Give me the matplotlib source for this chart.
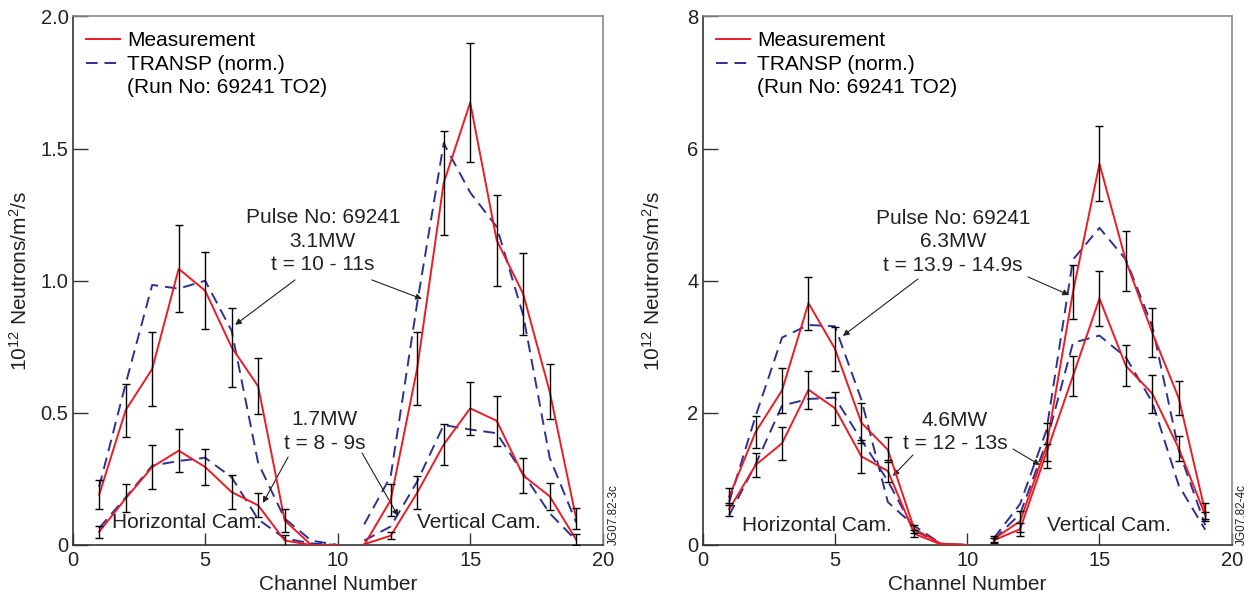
#!/usr/bin/env python3
"""Neutron camera profiles: measurement vs TRANSP, two heating phases"""

import numpy as np
import matplotlib
matplotlib.use('Agg')
import matplotlib.pyplot as plt
from matplotlib.lines import Line2D

plt.rcParams['font.family'] = ['Liberation Sans', 'DejaVu Sans']
plt.rcParams['mathtext.fontset'] = 'custom'
plt.rcParams['mathtext.rm'] = 'Liberation Sans'
plt.rcParams['mathtext.it'] = 'Liberation Sans:italic'

# channels: horizontal camera 1-10, vertical camera 11-19
hor_ch = [1, 2, 3, 4, 5, 6, 7, 8, 9, 10]
ver_ch = [11, 12, 13, 14, 15, 16, 17, 18, 19]

# left panel, 3.1MW (t = 10 - 11s)
meas_31_h = [0.19, 0.51, 0.666, 1.045, 0.962, 0.748, 0.60, 0.093, 0.0, 0.0]
err_31_h = [0.055, 0.10, 0.14, 0.165, 0.145, 0.15, 0.106, 0.045, 0.0, 0.0]
transp_31_h = [0.22, 0.61, 0.984, 0.97, 1.0, 0.81, 0.31, 0.10, 0.017, 0.0]
meas_31_v = [0.0, 0.17, 0.668, 1.37, 1.674, 1.153, 0.95, 0.58, 0.10]
err_31_v = [0.0, 0.06, 0.137, 0.197, 0.226, 0.172, 0.154, 0.105, 0.04]
transp_31_v = [0.078, 0.26, 0.915, 1.52, 1.334, 1.204, 0.87, 0.33, 0.085]

# left panel, 1.7MW (t = 8 - 9s)
meas_17_h = [0.05, 0.176, 0.295, 0.357, 0.295, 0.20, 0.15, 0.017, 0.0, 0.0]
err_17_h = [0.022, 0.053, 0.082, 0.082, 0.069, 0.065, 0.045, 0.02, 0.0, 0.0]
transp_17_h = [0.064, 0.18, 0.30, 0.318, 0.33, 0.256, 0.097, 0.025, 0.006, 0.0]
meas_17_v = [0.003, 0.035, 0.198, 0.38, 0.517, 0.47, 0.263, 0.184, 0.02]
err_17_v = [0.0, 0.013, 0.063, 0.077, 0.10, 0.094, 0.067, 0.05, 0.02]
transp_17_v = [0.017, 0.07, 0.24, 0.454, 0.437, 0.423, 0.27, 0.12, 0.017]

# right panel, 6.3MW (t = 13.9 - 14.9s)
meas_63_h = [0.73, 1.71, 2.34, 3.66, 2.97, 1.85, 1.44, 0.24, 0.02, 0.0]
err_63_h = [0.13, 0.235, 0.34, 0.40, 0.33, 0.30, 0.19, 0.06, 0.0, 0.0]
transp_63_h = [0.65, 1.95, 3.14, 3.33, 3.31, 2.2, 0.65, 0.29, 0.02, 0.0]
meas_63_v = [0.09, 0.36, 1.50, 3.83, 5.77, 4.30, 3.21, 2.22, 0.50]
err_63_v = [0.05, 0.16, 0.34, 0.41, 0.57, 0.45, 0.37, 0.26, 0.13]
transp_63_v = [0.10, 0.62, 1.74, 4.32, 4.80, 4.32, 3.31, 1.43, 0.30]

# right panel, 4.6MW (t = 12 - 13s)
meas_46_h = [0.54, 1.21, 1.54, 2.35, 2.07, 1.34, 1.12, 0.17, 0.01, 0.0]
err_46_h = [0.10, 0.185, 0.25, 0.29, 0.25, 0.25, 0.16, 0.05, 0.0, 0.0]
transp_46_h = [0.45, 1.22, 2.11, 2.21, 2.23, 1.59, 0.97, 0.22, 0.02, 0.0]
meas_46_v = [0.07, 0.24, 1.40, 2.56, 3.73, 2.71, 2.29, 1.46, 0.45]
err_46_v = [0.04, 0.10, 0.13, 0.30, 0.41, 0.31, 0.29, 0.19, 0.05]
transp_46_v = [0.08, 0.47, 1.56, 3.06, 3.17, 2.84, 2.16, 0.90, 0.23]

RED = '#ED1C24'
BLUE = '#2E3192'
FS = 15


def draw_profile(ax, ch, meas, err, transp):
    ch = np.array(ch)
    meas = np.array(meas)
    err = np.array(err)
    ax.plot(ch, transp, color=BLUE, lw=1.4, dashes=(6, 3.5), zorder=3)
    ax.plot(ch, meas, color=RED, lw=1.4, zorder=4)
    m = err > 0
    ax.errorbar(ch[m], meas[m], yerr=err[m], fmt='none', ecolor='black',
                elinewidth=1.0, capsize=3, capthick=1.0, zorder=5)


def style_axes(ax, ymax, yticks, ylabels):
    ax.set_xlim(0, 20)
    ax.set_ylim(0, ymax)
    ax.set_xticks([0, 5, 10, 15, 20])
    ax.set_yticks(yticks)
    ax.set_yticklabels(ylabels)
    ax.tick_params(direction='in', length=11, width=1.0, labelsize=14.5,
                   pad=3, color='#333333', labelcolor='#222222')
    ax.tick_params(axis='x', length=9, pad=4)
    for s in ['left', 'bottom']:
        ax.spines[s].set_color('#333333')
        ax.spines[s].set_linewidth(1.2)
    for s in ['top', 'right']:
        ax.spines[s].set_color('#8a8a8a')
        ax.spines[s].set_linewidth(1.2)
    handles = [Line2D([], [], color=RED, lw=1.4),
               Line2D([], [], color=BLUE, lw=1.4, dashes=(6, 3.5)),
               Line2D([], [], color='none')]
    labels = ['Measurement', 'TRANSP (norm.)', '(Run No: 69241 TO2)']
    ax.legend(handles, labels, loc='upper left', bbox_to_anchor=(0.026, 0.972),
              frameon=False, fontsize=FS, handlelength=1.6, handletextpad=0.35,
              borderpad=0, borderaxespad=0, labelspacing=0.22)


def arrow(ax, tail, head):
    ax.annotate('', xy=head, xytext=tail,
                arrowprops=dict(arrowstyle='-|>', color='#222222', lw=0.8,
                                mutation_scale=9, shrinkA=0, shrinkB=0))


fig = plt.figure(figsize=(12.53, 6.02), dpi=100)
ax1 = fig.add_axes([0.058, 0.0947, 0.423, 0.878])
ax2 = fig.add_axes([0.5608, 0.0947, 0.4222, 0.878])

# left panel
draw_profile(ax1, hor_ch, meas_17_h, err_17_h, transp_17_h)
draw_profile(ax1, ver_ch, meas_17_v, err_17_v, transp_17_v)
draw_profile(ax1, hor_ch, meas_31_h, err_31_h, transp_31_h)
draw_profile(ax1, ver_ch, meas_31_v, err_31_v, transp_31_v)
style_axes(ax1, 2.0, [0, 0.5, 1.0, 1.5, 2.0], ['0', '0.5', '1.0', '1.5', '2.0'])

ax1.text(9.44, 1.15, 'Pulse No: 69241\n3.1MW\nt = 10 - 11s', ha='center',
         va='center', fontsize=FS, linespacing=1.3, color='#222222')
arrow(ax1, (8.39, 1.003), (6.13, 0.833))
arrow(ax1, (11.29, 1.003), (13.18, 0.931))
ax1.text(9.52, 0.43, '1.7MW\nt = 8 - 9s', ha='center', va='center',
         fontsize=FS, linespacing=1.3, color='#222222')
arrow(ax1, (8.13, 0.333), (7.18, 0.159))
arrow(ax1, (10.92, 0.348), (12.28, 0.110))
ax1.text(1.47, 0.085, 'Horizontal Cam.', ha='left', va='center', fontsize=FS,
         color='#222222')
ax1.text(15.33, 0.085, 'Vertical Cam.', ha='center', va='center', fontsize=FS,
         color='#222222')

# right panel
draw_profile(ax2, hor_ch, meas_46_h, err_46_h, transp_46_h)
draw_profile(ax2, ver_ch, meas_46_v, err_46_v, transp_46_v)
draw_profile(ax2, hor_ch, meas_63_h, err_63_h, transp_63_h)
draw_profile(ax2, ver_ch, meas_63_v, err_63_v, transp_63_v)
style_axes(ax2, 8, [0, 2, 4, 6, 8], ['0', '2', '4', '6', '8'])

ax2.text(9.46, 4.59, 'Pulse No: 69241\n6.3MW\nt = 13.9 - 14.9s', ha='center',
         va='center', fontsize=FS, linespacing=1.3, color='#222222')
arrow(ax2, (8.14, 4.027), (5.30, 3.164))
arrow(ax2, (12.30, 4.057), (13.85, 3.784))
ax2.text(9.54, 1.71, '4.6MW\nt = 12 - 13s', ha='center', va='center',
         fontsize=FS, linespacing=1.3, color='#222222')
arrow(ax2, (7.95, 1.362), (7.19, 1.045))
arrow(ax2, (11.73, 1.453), (12.75, 1.211))
ax2.text(1.47, 0.29, 'Horizontal Cam.', ha='left', va='center', fontsize=FS,
         color='#222222')
ax2.text(15.35, 0.29, 'Vertical Cam.', ha='center', va='center', fontsize=FS,
         color='#222222')

# axis labels
ylab = '10$^{12}$ Neutrons/m$^2$/s'
fig.text(20 / 1253, 1 - 281 / 602, ylab, rotation=90, ha='center', va='center',
         fontsize=FS, color='#222222')
fig.text(653 / 1253, 1 - 281 / 602, ylab, rotation=90, ha='center', va='center',
         fontsize=FS, color='#222222')
fig.text(337.7 / 1253, 1 - 584 / 602, 'Channel Number', ha='center', va='center',
         fontsize=FS, color='#222222')
fig.text(967 / 1253, 1 - 584 / 602, 'Channel Number', ha='center', va='center',
         fontsize=FS, color='#222222')

# figure ids
fig.text(614 / 1253, 1 - 545 / 602, 'JG07.82-3c', rotation=90, ha='center',
         va='bottom', fontsize=8.5, color='#222222')
fig.text(1242 / 1253, 1 - 545 / 602, 'JG07.82-4c', rotation=90, ha='center',
         va='bottom', fontsize=8.5, color='#222222')

fig.savefig('out.png', dpi=100, facecolor='white')
